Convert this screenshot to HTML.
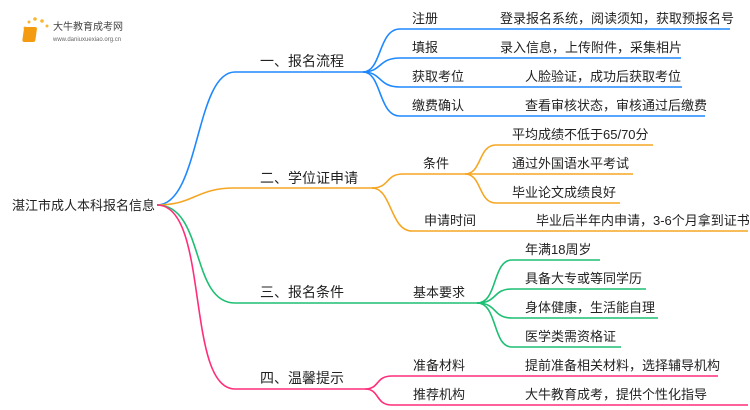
<!DOCTYPE html>
<html><head><meta charset="utf-8"><style>
html,body{margin:0;padding:0;background:#fff}
svg{display:block}
text{font-family:"Liberation Sans","Noto Sans CJK SC",sans-serif;font-size:13px;fill:#222}
</style></head><body>
<svg width="750" height="410" viewBox="0 0 750 410">
<g fill="none" stroke-width="1.6">
<g stroke="#1e88ff">
<path d="M157,205 C200,205 195,72 235,72 L363,72"/>
<path d="M363,72 C382,72 378,29 400,29 L730,29"/>
<path d="M363,72 C382,72 378,58 400,58 L681,58"/>
<path d="M363,72 C382,72 378,87 400,87 L682,87"/>
<path d="M363,72 C382,72 378,116 400,116 L705,116"/>
</g>
<g stroke="#f5a623">
<path d="M157,205 C195,205 195,188 235,188 L375,188"/>
<path d="M372,188 C390,188 385,174 403,174 L465,174"/>
<path d="M372,188 C392,188 390,231 412,231 L748,231"/>
<path d="M465,174 C482,174 478,145 496,145 L653,145"/>
<path d="M465,174 L633,174"/>
<path d="M465,174 C482,174 478,203 496,203 L620,203"/>
</g>
<g stroke="#1dbf73">
<path d="M157,205 C205,205 190,303 235,303 L477,303"/>
<path d="M477,303 C498,303 492,260 512,260 L600,260"/>
<path d="M477,303 C498,303 492,289 512,289 L646,289"/>
<path d="M477,303 C498,303 492,318 512,318 L658,318"/>
<path d="M477,303 C498,303 492,347 512,347 L621,347"/>
</g>
<g stroke="#ff2d7a">
<path d="M157,205 C210,205 185,389 235,389 L365,389"/>
<path d="M365,389 C380,389 375,376 392,376 L718,376"/>
<path d="M365,389 C380,389 375,405 392,405 L748,405"/>
</g>
</g>
<g>
<circle cx="25" cy="28" r="1.5" fill="#f7b733"/><circle cx="29" cy="22" r="1.5" fill="#f7b733"/><circle cx="35" cy="19" r="1.8" fill="#f7b733"/><circle cx="42" cy="21" r="1.8" fill="#f7b733"/><circle cx="47" cy="26" r="1.5" fill="#f7b733"/>
<rect x="28" y="27" width="13" height="15" rx="2" fill="#f39c12" transform="skewX(-8)"/>
<text x="53" y="30" style="font-size:10px;fill:#444">大牛教育成考网</text>
<text x="53" y="41" style="font-size:6px;fill:#666">www.daniuxuexiao.org.cn</text>
</g>
<text x="12" y="210" style="font-size:13px">湛江市成人本科报名信息</text>
<text x="260" y="66" style="font-size:14px">一、报名流程</text>
<text x="260" y="183" style="font-size:14px">二、学位证申请</text>
<text x="260" y="297" style="font-size:14px">三、报名条件</text>
<text x="260" y="383" style="font-size:14px">四、温馨提示</text>
<text x="412" y="23">注册</text><text x="500" y="23">登录报名系统，阅读须知，获取预报名号</text>
<text x="412" y="52">填报</text><text x="500" y="52">录入信息，上传附件，采集相片</text>
<text x="412" y="81">获取考位</text><text x="525" y="81">人脸验证，成功后获取考位</text>
<text x="412" y="110">缴费确认</text><text x="525" y="110">查看审核状态，审核通过后缴费</text>
<text x="423" y="168">条件</text>
<text x="512" y="139">平均成绩不低于65/70分</text>
<text x="512" y="168">通过外国语水平考试</text>
<text x="512" y="197">毕业论文成绩良好</text>
<text x="424" y="225">申请时间</text><text x="536" y="225">毕业后半年内申请，3-6个月拿到证书</text>
<text x="413" y="297">基本要求</text>
<text x="525" y="254">年满18周岁</text>
<text x="525" y="283">具备大专或等同学历</text>
<text x="525" y="312">身体健康，生活能自理</text>
<text x="525" y="341">医学类需资格证</text>
<text x="413" y="370">准备材料</text><text x="525" y="370">提前准备相关材料，选择辅导机构</text>
<text x="413" y="399">推荐机构</text><text x="525" y="399">大牛教育成考，提供个性化指导</text>
</svg>
</body></html>
